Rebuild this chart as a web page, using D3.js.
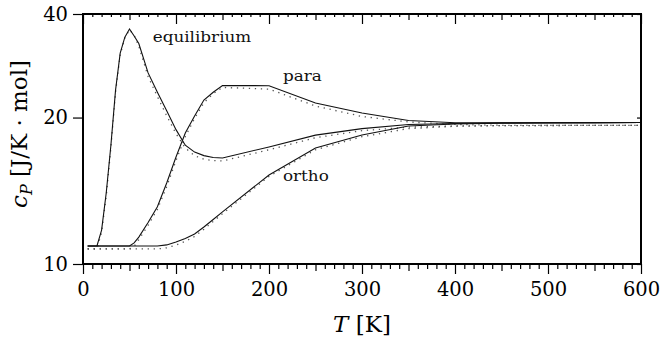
<!DOCTYPE html>
<html>
<head>
<meta charset="utf-8">
<script src="https://cdn.jsdelivr.net/npm/d3@7"></script>
<style>
  body { margin: 0; background: #fff; }
</style>
</head>
<body>
<figure id="cpChart" style="margin:0"></figure>
<script>
// temperature grid [K] shared by every curve
const tempK = [5, 10, 15, 20, 25, 30, 35, 40, 45, 50, 55, 60, 70, 80, 90, 100,
  110, 120, 130, 140, 150, 200, 250, 300, 350, 400, 450, 500, 550, 600];

// solid curves
const equilibriumCp = [10.76, 10.76, 10.76, 11.51, 13.6, 17.2, 23.5, 29.9, 33.5, 35.6, 33.8, 32.0,
  26.2, 23.2, 20.8, 18.7, 17.2, 16.6, 16.3, 16.15, 16.1, 17.05, 18.15, 18.8, 19.24, 19.35,
  19.40, 19.42, 19.44, 19.46];
const paraCp = [10.76, 10.76, 10.76, 10.76, 10.76, 10.76, 10.76, 10.76, 10.76, 10.76, 10.9, 11.17,
  11.89, 12.75, 14.24, 16.19, 18.36, 20.18, 22.14, 23.2, 24.19, 24.15, 21.75, 20.53, 19.67,
  19.42, 19.42, 19.43, 19.44, 19.46];
const orthoCp = [10.76, 10.76, 10.76, 10.76, 10.76, 10.76, 10.76, 10.76, 10.76, 10.76, 10.76, 10.76,
  10.76, 10.76, 10.81, 10.94, 11.10, 11.32, 11.66, 12.05, 12.46, 14.80, 16.95, 18.16, 19.08,
  19.29, 19.38, 19.41, 19.43, 19.45];

// dotted curves
const equilibriumCpDot = [10.63, 10.63, 10.63, 11.4, 13.4, 17.0, 23.2, 29.6, 33.3, 35.4, 34.0, 31.4,
  25.6, 22.6, 20.2, 18.3, 16.95, 16.3, 16.0, 15.9, 15.86, 16.8, 17.9, 18.6, 18.95, 19.08,
  19.12, 19.13, 19.14, 19.15];
const paraCpDot = [10.63, 10.63, 10.63, 10.63, 10.63, 10.63, 10.63, 10.63, 10.63, 10.63, 10.75, 11.05,
  11.75, 12.6, 14.0, 15.9, 18.0, 19.9, 21.8, 23.0, 23.9, 23.65, 21.37, 20.12, 19.51, 19.24,
  19.15, 19.14, 19.14, 19.15];
const orthoCpDot = [10.63, 10.63, 10.63, 10.63, 10.63, 10.63, 10.63, 10.63, 10.63, 10.63, 10.63, 10.63,
  10.63, 10.63, 10.68, 10.8, 10.97, 11.2, 11.55, 11.95, 12.36, 14.7, 16.8, 18.0, 18.8, 19.05,
  19.12, 19.13, 19.14, 19.15];

// axis ticks and labels
const xTicks = [0, 100, 200, 300, 400, 500, 600];
const yTicks = [10, 20, 40];
const curveLabels = [
  { text: "equilibrium", t: 75, cp: 32.3 },
  { text: "para", t: 215, cp: 24.9 },
  { text: "ortho", t: 215, cp: 14.4 }
];

const width = 663, height = 339;
const margin = { top: 14, right: 22, bottom: 75, left: 83 };
const serif = "DejaVu Serif";

const svg = d3.select("figure#cpChart").append("svg")
  .attr("width", width)
  .attr("height", height)
  .attr("font-family", serif);

const xScale = d3.scaleLinear()
  .domain([0, 600])
  .range([margin.left, width - margin.right]);
const yScale = d3.scalePow().exponent(-0.5)
  .domain([10, 40])
  .range([height - margin.bottom, margin.top]);

const x0 = margin.left, x1 = width - margin.right;
const y0 = height - margin.bottom, y1 = margin.top;

// curves
const line = d3.line()
  .x((d) => xScale(d[0]))
  .y((d) => yScale(d[1]));

const series = [
  { values: equilibriumCpDot, dotted: true },
  { values: paraCpDot, dotted: true },
  { values: orthoCpDot, dotted: true },
  { values: equilibriumCp, dotted: false },
  { values: paraCp, dotted: false },
  { values: orthoCp, dotted: false }
];
series.forEach((s) => {
  svg.append("path")
    .attr("d", line(tempK.map((t, i) => [t, s.values[i]])))
    .attr("fill", "none")
    .attr("stroke", s.dotted ? "#555" : "#111")
    .attr("stroke-width", s.dotted ? 1.3 : 1.1)
    .attr("stroke-dasharray", s.dotted ? "1.3,4.7" : null);
});

// tick sets
const xMid = d3.range(50, 600, 100);
const xMinor = d3.range(10, 600, 10).filter((d) => d % 50 !== 0);

function styleAxis(g) {
  g.attr("font-family", serif).attr("font-size", 19.5);
  g.select(".domain").remove();
  g.selectAll(".tick line").attr("stroke", "#000").attr("stroke-width", 1.2);
  g.selectAll(".tick text").attr("fill", "#000");
}

// bottom axis (outward)
[[xMinor, 5], [xMid, 7]].forEach(([vals, size]) => {
  svg.append("g")
    .attr("transform", "translate(0," + y0 + ")")
    .call(d3.axisBottom(xScale).tickValues(vals).tickSize(size).tickFormat(""))
    .call(styleAxis);
});
svg.append("g")
  .attr("transform", "translate(0," + y0 + ")")
  .call(d3.axisBottom(xScale).tickValues(xTicks).tickSize(10).tickPadding(8).tickFormat(d3.format("d")))
  .call(styleAxis);

// top axis (inward)
[[xMinor, 3], [xMid, 6], [xTicks, 10]].forEach(([vals, size]) => {
  svg.append("g")
    .attr("transform", "translate(0," + y1 + ")")
    .call(d3.axisTop(xScale).tickValues(vals).tickSize(-size).tickFormat(""))
    .call(styleAxis);
});

// left axis (outward)
svg.append("g")
  .attr("transform", "translate(" + x0 + ",0)")
  .call(d3.axisLeft(yScale).tickValues(yTicks).tickSize(10).tickPadding(5).tickFormat(d3.format("d")))
  .call(styleAxis);

// right axis (inward)
svg.append("g")
  .attr("transform", "translate(" + x1 + ",0)")
  .call(d3.axisRight(yScale).tickValues(yTicks).tickSize(-4).tickFormat(""))
  .call(styleAxis);

// frame
svg.append("rect")
  .attr("x", x0)
  .attr("y", y1)
  .attr("width", x1 - x0)
  .attr("height", y0 - y1)
  .attr("fill", "none")
  .attr("stroke", "#000")
  .attr("stroke-width", 2);

// curve labels (wide small-size serif)
curveLabels.forEach((c) => {
  svg.append("text")
    .attr("transform", "translate(" + xScale(c.t) + "," + yScale(c.cp) + ") scale(1.2,1)")
    .attr("font-size", 14)
    .attr("fill", "#111")
    .text(c.text);
});

// x axis title
const xTitle = svg.append("text")
  .attr("x", (x0 + x1) / 2)
  .attr("y", 332)
  .attr("text-anchor", "middle")
  .attr("font-size", 23)
  .attr("fill", "#000");
xTitle.append("tspan").attr("font-style", "italic").text("T");
xTitle.append("tspan").text(" [K]");

// y axis title
const yTitle = svg.append("text")
  .attr("transform", "translate(27," + 134 + ") rotate(-90)")
  .attr("text-anchor", "middle")
  .attr("font-size", 23)
  .attr("fill", "#000");
yTitle.append("tspan").attr("font-style", "italic").text("c");
yTitle.append("tspan").attr("font-style", "italic").attr("font-size", 16).attr("dy", 5).text("P");
yTitle.append("tspan").attr("dy", -5).text(" [J/K \u00b7 mol]");
</script>
</body>
</html>
